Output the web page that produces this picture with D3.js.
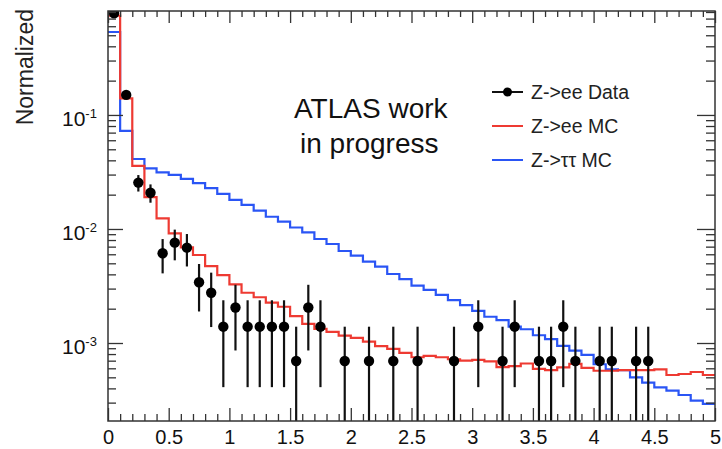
<!DOCTYPE html>
<html lang="en">
<head>
    <meta charset="UTF-8">
    <title>Z->ee vs Z->tautau</title>
    <style>
        body { margin: 0; background: #fff; }
        text { font-family: "Liberation Sans", Arial, sans-serif; }
        .tick line { stroke: #333; stroke-width: 1.3; }
    </style>
    <script src="https://d3js.org/d3.v7.min.js"></script>
</head>
<body>
    <script>
        // bin centres (0.1 wide bins from 0 to 5)
        const binCenters = [0.05, 0.15, 0.25, 0.35, 0.45, 0.55, 0.65, 0.75, 0.85, 0.95,
                            1.05, 1.15, 1.25, 1.35, 1.45, 1.55, 1.65, 1.75, 1.85, 1.95,
                            2.05, 2.15, 2.25, 2.35, 2.45, 2.55, 2.65, 2.75, 2.85, 2.95,
                            3.05, 3.15, 3.25, 3.35, 3.45, 3.55, 3.65, 3.75, 3.85, 3.95,
                            4.05, 4.15, 4.25, 4.35, 4.45, 4.55, 4.65, 4.75, 4.85, 4.95];

        const zeeMC = [0.743, 0.140, 0.0358, 0.0190, 0.0124, 0.00916, 0.00690, 0.00591, 0.00473, 0.00394,
                       0.00327, 0.00276, 0.00252, 0.00226, 0.00208, 0.00172, 0.00147, 0.00133, 0.00125, 0.00116,
                       0.00111, 0.00103, 0.00094, 0.00089, 0.00082, 0.00075, 0.00077, 0.00075, 0.00072, 0.00070,
                       0.00071, 0.00069, 0.000615, 0.000628, 0.000661, 0.000592, 0.000579, 0.000612, 0.000655, 0.000604,
                       0.000571, 0.000571, 0.000579, 0.000579, 0.000579, 0.000588, 0.000524, 0.000535, 0.000557, 0.000524];

        const ztautauMC = [0.534, 0.0724, 0.0411, 0.0340, 0.0314, 0.0298, 0.0275, 0.0252, 0.0228, 0.0203,
                           0.0180, 0.0163, 0.0145, 0.0128, 0.0116, 0.0103, 0.00935, 0.00817, 0.00738, 0.00641,
                           0.00583, 0.00517, 0.00467, 0.00403, 0.00364, 0.00318, 0.00292, 0.00264, 0.00238, 0.00215,
                           0.00191, 0.00170, 0.00159, 0.00139, 0.00132, 0.00117, 0.00108, 0.000942, 0.000857, 0.000786,
                           0.000651, 0.000588, 0.000579, 0.000500, 0.000449, 0.000408, 0.000382, 0.000350, 0.000312, 0.000292];

        const zeeData = [0.78, 0.150, 0.0255, 0.0208, 0.00612, 0.00759, 0.00686, 0.00341, 0.00276, 0.00139,
                         0.00205, 0.00139, 0.00139, 0.00139, 0.00139, 0.000695, 0.00205, 0.00139, null, 0.000695,
                         null, 0.000695, null, 0.000695, null, 0.000695, null, null, 0.000695, null,
                         0.00139, null, 0.000695, 0.00139, null, 0.000695, 0.000695, 0.00139, 0.000695, null,
                         0.000695, 0.000695, null, 0.000695, 0.000695, null, null, null, null, null];

        const zeeDataErr = [0.023, 0.0102, 0.0042, 0.0038, 0.00204, 0.00228, 0.00217, 0.00152, 0.00138, 0.00098,
                            0.00119, 0.00098, 0.00098, 0.00098, 0.00098, 0.000695, 0.00119, 0.00098, null, 0.000695,
                            null, 0.000695, null, 0.000695, null, 0.000695, null, null, 0.000695, null,
                            0.00098, null, 0.000695, 0.00098, null, 0.000695, 0.000695, 0.00098, 0.000695, null,
                            0.000695, 0.000695, null, 0.000695, 0.000695, null, null, null, null, null];

        const xMajorTicks = [0, 0.5, 1, 1.5, 2, 2.5, 3, 3.5, 4, 4.5, 5];
        const xTickLabels = ["0", "0.5", "1", "1.5", "2", "2.5", "3", "3.5", "4", "4.5", "5"];
        const yMajorTicks = [1e-1, 1e-2, 1e-3];
        const yTickExponents = ["-1", "-2", "-3"];

        const legendLabels = ["Z->ee Data", "Z->ee MC", "Z->\u03c4\u03c4 MC"];
        const colRed = "#ee3a32", colBlue = "#2a55f5";

        const W = 722, H = 449;
        const pLeft = 108, pRight = 715, pTop = 11, pBottom = 421;

        const svg = d3.select("body").append("svg")
            .attr("width", W).attr("height", H);

        const x = d3.scaleLinear().domain([0, 5]).range([pLeft, pRight]);
        const y = d3.scaleLog().domain([2.07e-4, 0.816]).range([pBottom, pTop]);

        svg.append("clipPath").attr("id", "plotclip")
            .append("rect")
            .attr("x", pLeft).attr("y", pTop)
            .attr("width", pRight - pLeft).attr("height", pBottom - pTop);

        const plot = svg.append("g").attr("clip-path", "url(#plotclip)");

        // histogram outlines as steps through the bin edges
        const half = 0.05;
        function stepPoints(vals) {
            const pts = vals.map((v, i) => [binCenters[i] - half, v]);
            pts.push([binCenters[binCenters.length - 1] + half, vals[vals.length - 1]]);
            return pts;
        }
        const step = d3.line()
            .x(d => x(d[0]))
            .y(d => y(d[1]))
            .curve(d3.curveStepAfter);

        plot.append("path")
            .attr("d", step(stepPoints(ztautauMC)))
            .attr("fill", "none").attr("stroke", colBlue).attr("stroke-width", 2.2);

        plot.append("path")
            .attr("d", step(stepPoints(zeeMC)))
            .attr("fill", "none").attr("stroke", colRed).attr("stroke-width", 2.2);

        // data points with error bars
        const pts = binCenters.map((c, i) => ({c: c, v: zeeData[i], e: zeeDataErr[i]}))
            .filter(d => d.v !== null);

        plot.selectAll(".err").data(pts).enter()
            .append("line")
            .attr("class", "err")
            .attr("x1", d => x(d.c)).attr("x2", d => x(d.c))
            .attr("y1", d => y(d.v + d.e))
            .attr("y2", d => d.v - d.e > 1e-6 ? y(d.v - d.e) : pBottom + 2)
            .attr("stroke", "#111").attr("stroke-width", 2.2);

        plot.selectAll(".pt").data(pts).enter()
            .append("circle")
            .attr("class", "pt")
            .attr("cx", d => x(d.c)).attr("cy", d => y(d.v))
            .attr("r", 5.2)
            .attr("fill", "#000");

        // axes (ROOT style, ticks inside)
        const xMinor = d3.range(0, 5.001, 0.1).filter(t => Math.abs(t * 2 - Math.round(t * 2)) > 1e-6);

        svg.append("g").attr("transform", "translate(0," + pBottom + ")")
            .call(d3.axisBottom(x).tickValues(xMajorTicks).tickSize(-13).tickPadding(9)
                .tickFormat((d, i) => xTickLabels[i]))
            .call(g => g.select(".domain").remove())
            .call(g => g.selectAll("text").attr("font-size", 20).attr("fill", "#111")
                .attr("font-family", "Liberation Sans, Arial, sans-serif"));
        svg.append("g").attr("transform", "translate(0," + pBottom + ")")
            .call(d3.axisBottom(x).tickValues(xMinor).tickSize(-7).tickFormat(""))
            .call(g => g.select(".domain").remove());

        svg.append("g").attr("transform", "translate(0," + pTop + ")")
            .call(d3.axisTop(x).tickValues(xMajorTicks).tickSize(-12).tickFormat(""))
            .call(g => g.select(".domain").remove());
        svg.append("g").attr("transform", "translate(0," + pTop + ")")
            .call(d3.axisTop(x).tickValues(xMinor).tickSize(-6).tickFormat(""))
            .call(g => g.select(".domain").remove());

        const yAll = y.ticks().filter(t => yMajorTicks.every(m => Math.abs(t - m) / m > 1e-6));

        svg.append("g").attr("transform", "translate(" + pLeft + ",0)")
            .call(d3.axisLeft(y).tickValues(yMajorTicks).tickSize(-15).tickFormat(""))
            .call(g => g.select(".domain").remove());
        svg.append("g").attr("transform", "translate(" + pLeft + ",0)")
            .call(d3.axisLeft(y).tickValues(yAll).tickSize(-8).tickFormat(""))
            .call(g => g.select(".domain").remove());

        svg.append("g").attr("transform", "translate(" + pRight + ",0)")
            .call(d3.axisRight(y).tickValues(yMajorTicks).tickSize(-18).tickFormat(""))
            .call(g => g.select(".domain").remove());
        svg.append("g").attr("transform", "translate(" + pRight + ",0)")
            .call(d3.axisRight(y).tickValues(yAll).tickSize(-9).tickFormat(""))
            .call(g => g.select(".domain").remove());

        // y tick labels 10^-n
        yMajorTicks.forEach((t, i) => {
            const lbl = svg.append("text")
                .attr("x", 62).attr("y", y(t) + 11)
                .attr("font-size", 21).attr("fill", "#111");
            lbl.append("tspan").text("10");
            lbl.append("tspan").attr("dy", -8).attr("font-size", 13).text(yTickExponents[i]);
        });

        // frame
        svg.append("rect")
            .attr("x", pLeft).attr("y", pTop)
            .attr("width", pRight - pLeft).attr("height", pBottom - pTop)
            .attr("fill", "none").attr("stroke", "#333").attr("stroke-width", 1.5);

        // y title
        svg.append("text")
            .attr("transform", "translate(33,9) rotate(-90)")
            .attr("text-anchor", "end")
            .attr("font-size", 23).attr("fill", "#222")
            .text("Normalized");

        // ATLAS label
        svg.append("text").attr("x", 294).attr("y", 118)
            .attr("font-family", "Open Sans").attr("font-size", 28).attr("fill", "#111")
            .text("ATLAS work");
        svg.append("text").attr("x", 300).attr("y", 153)
            .attr("font-family", "Open Sans").attr("font-size", 28).attr("fill", "#111")
            .text("in progress");

        // legend
        const leg = svg.append("g");
        const legY = [92, 126, 160];
        leg.append("line").attr("x1", 492).attr("x2", 523).attr("y1", legY[0]).attr("y2", legY[0])
            .attr("stroke", "#111").attr("stroke-width", 2);
        leg.append("circle").attr("cx", 507.5).attr("cy", legY[0]).attr("r", 4.5).attr("fill", "#000");
        leg.append("line").attr("x1", 492).attr("x2", 523).attr("y1", legY[1]).attr("y2", legY[1])
            .attr("stroke", colRed).attr("stroke-width", 2);
        leg.append("line").attr("x1", 492).attr("x2", 523).attr("y1", legY[2]).attr("y2", legY[2])
            .attr("stroke", colBlue).attr("stroke-width", 2);
        legendLabels.forEach((s, i) => {
            leg.append("text").attr("x", 531).attr("y", legY[i] + 7)
                .attr("font-size", 19.5).attr("fill", "#222").text(s);
        });
    </script>
</body>
</html>
